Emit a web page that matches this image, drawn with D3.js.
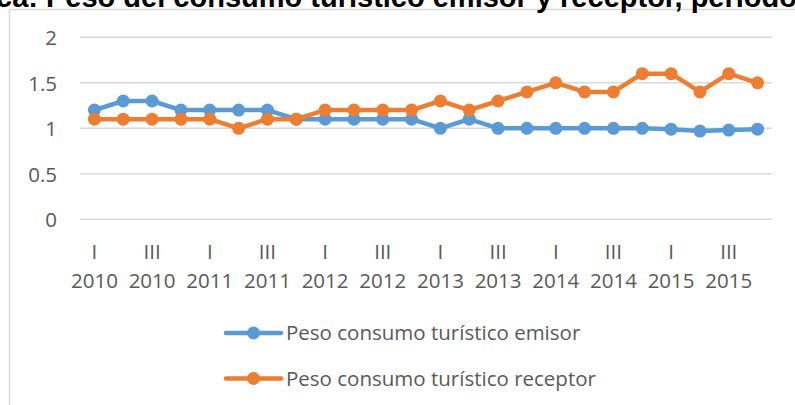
<!DOCTYPE html>
<html>
<head>
<meta charset="utf-8">
<script src="https://cdn.jsdelivr.net/npm/d3@7"></script>
<style>
body { margin: 0; background: #fff; }
svg { display: block; }
</style>
</head>
<body>
<svg width="795" height="405"></svg>
<script>
// data
var quarters = ["I","II","III","IV","I","II","III","IV","I","II","III","IV",
                "I","II","III","IV","I","II","III","IV","I","II","III","IV"];
var years = ["2010","2010","2010","2010","2011","2011","2011","2011","2012","2012","2012","2012",
             "2013","2013","2013","2013","2014","2014","2014","2014","2015","2015","2015","2015"];
var emisor = [1.2,1.3,1.3,1.2,1.2,1.2,1.2,1.1,1.1,1.1,1.1,1.1,
              1.0,1.1,1.0,1.0,1.0,1.0,1.0,1.0,0.99,0.97,0.98,0.99];
var receptor = [1.1,1.1,1.1,1.1,1.1,1.0,1.1,1.1,1.2,1.2,1.2,1.2,
                1.3,1.2,1.3,1.4,1.5,1.4,1.4,1.6,1.6,1.4,1.6,1.5];
var yTicks = [0, 0.5, 1, 1.5, 2];
var seriesNames = ["Peso consumo turístico emisor", "Peso consumo turístico receptor"];
var titleText = "Gráfica: Peso del consumo turístico emisor y receptor, periodo 2010-2015";

var svg = d3.select("svg");
var colors = ["#5B9BD5", "#ED7D31"];
var textColor = "#595959";
var font = "'Open Sans', sans-serif";
var fontSize = "20.5px";

var keys = quarters.map(function(q, i) { return i; });

var x = d3.scaleBand()
    .domain(keys)
    .range([80, 772]);

var y = d3.scaleLinear()
    .domain([0, 2])
    .range([219.3, 37.3]);

// chart frame
svg.append("rect")
    .attr("x", 9.5).attr("y", 9.5)
    .attr("width", 820).attr("height", 430)
    .style("fill", "none")
    .style("stroke", "#d9d9d9")
    .style("stroke-width", 1.5);

// title (clipped at the top like the source)
var title = svg.append("text")
    .attr("y", 6.5)
    .style("font-family", "'Liberation Sans', Arial, sans-serif")
    .style("font-weight", "bold")
    .style("font-size", "29px")
    .style("fill", "#000");
var pre = title.append("tspan").text(titleText.split("Peso")[0]);
title.append("tspan").text("Peso" + titleText.split("Peso")[1]);
title.attr("x", 46 - pre.node().getComputedTextLength());

// gridlines
svg.append("g")
    .selectAll("line")
    .data(yTicks)
    .enter().append("line")
    .attr("x1", 80).attr("x2", 772)
    .attr("y1", function(d) { return y(d); })
    .attr("y2", function(d) { return y(d); })
    .style("stroke", "#d9d9d9")
    .style("stroke-width", 1.5);

// y axis
var yAxis = svg.append("g")
    .attr("transform", "translate(57,0)")
    .call(d3.axisLeft(y).tickValues(yTicks).tickSize(0).tickPadding(0).tickFormat(d3.format("")));
yAxis.select(".domain").remove();
yAxis.selectAll("text")
    .attr("dy", "0.36em")
    .style("font-family", font)
    .style("font-size", fontSize)
    .style("fill", textColor);

// x axis, every other category labelled
var xAxis = svg.append("g")
    .call(d3.axisBottom(x)
        .tickValues(keys.filter(function(k) { return k % 2 === 0; }))
        .tickSize(0));
xAxis.select(".domain").remove();
xAxis.selectAll("text").each(function(k) {
    var t = d3.select(this).text(null)
        .attr("y", 0).attr("dy", null)
        .style("font-family", font)
        .style("font-size", fontSize)
        .style("fill", textColor);
    t.append("tspan").attr("x", 0).attr("y", 259).text(quarters[k]);
    t.append("tspan").attr("x", 0).attr("y", 288).text(years[k]);
});

// series
var line = d3.line()
    .x(function(d, i) { return x(i) + x.bandwidth() / 2; })
    .y(function(d) { return y(d); });

[emisor, receptor].forEach(function(s, si) {
    var g = svg.append("g");
    g.append("path")
        .datum(s)
        .attr("d", line)
        .style("fill", "none")
        .style("stroke", colors[si])
        .style("stroke-width", 4.5)
        .style("stroke-linejoin", "round");
    g.selectAll("circle")
        .data(s)
        .enter().append("circle")
        .attr("cx", function(d, i) { return x(i) + x.bandwidth() / 2; })
        .attr("cy", function(d) { return y(d); })
        .attr("r", 6.5)
        .style("fill", colors[si]);
});

// legend
var legend = svg.append("g")
    .selectAll("g")
    .data(seriesNames)
    .enter().append("g")
    .attr("transform", function(d, i) { return "translate(226," + (333 + i * 45.5) + ")"; });

legend.append("line")
    .attr("x1", 0).attr("x2", 55)
    .style("stroke", function(d, i) { return colors[i]; })
    .style("stroke-width", 4.5)
    .style("stroke-linecap", "round");
legend.append("circle")
    .attr("cx", 27.5)
    .attr("r", 6.5)
    .style("fill", function(d, i) { return colors[i]; });
legend.append("text")
    .attr("x", 60)
    .attr("dy", "0.36em")
    .style("font-family", font)
    .style("font-size", fontSize)
    .style("fill", textColor)
    .text(function(d) { return d; });
</script>
</body>
</html>
